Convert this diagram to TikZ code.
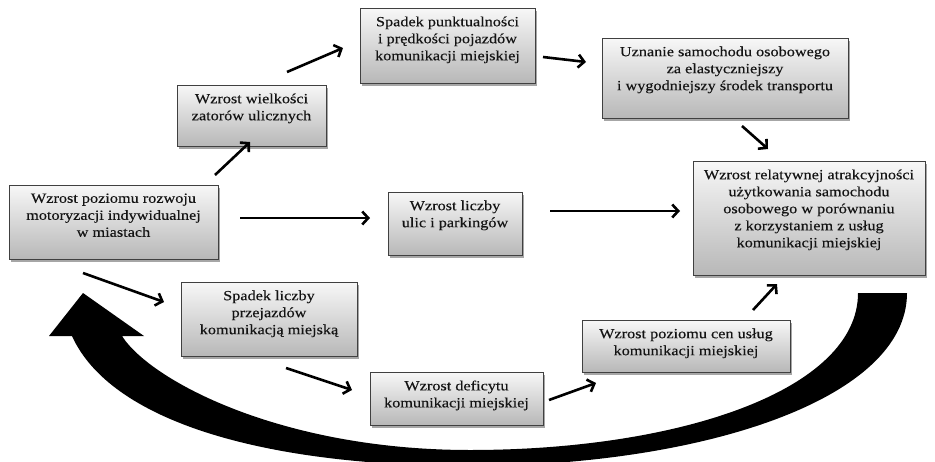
\documentclass[tikz,border=0pt]{standalone}
\usepackage{fontspec}
\setmainfont{Liberation Serif}[FakeStretch=1.16,FakeBold=0.25]
\usetikzlibrary{arrows.meta,shadows,calc}
\newcommand{\bxt}[3]{\parbox[c][#2][t]{#1}{\fontsize{14}{17}\selectfont\centering\vspace*{8.5pt}#3\par}}
\tikzset{
 boxst/.style={draw=black!75, line width=0.8pt, top color=black!3, bottom color=black!28,
   inner sep=0pt, text=black!92,
   drop shadow={shadow xshift=2pt, shadow yshift=-2.5pt, fill=black, opacity=0.35}},
 arr/.style={line width=2.6pt, -{Straight Barb[length=6pt,width=13pt]}},
 bigarrow/.style={fill=black, draw=none},
}
\begin{document}
\begin{tikzpicture}[x=1pt,y=-1pt]
\useasboundingbox (0,0) rectangle (935,461);
\fill[white] (0,0) rectangle (935,461);
\clip (0,0) rectangle (935,461);

% big feedback arrow
\path[bigarrow] (858,293) -- (907,293)
  .. controls (907,400) and (700,466) .. (470,466)
  .. controls (260,466) and (110,420) .. (72,336)
  -- (49,336) -- (83,293) -- (144,336) -- (122,336)
  .. controls (150,380) and (280,450) .. (470,450)
  .. controls (680,450) and (858,390) .. (858,293) -- cycle;

% boxes
\node[boxst] (A) at (113.5,222) {\bxt{209pt}{74pt}{Wzrost poziomu rozwoju\\motoryzacji indywidualnej\\w miastach}};
\node[boxst] (B) at (251.5,115.5) {\bxt{149pt}{61pt}{Wzrost wielkości\\zatorów ulicznych}};
\node[boxst] (C) at (447.5,45.5) {\bxt{175pt}{75pt}{Spadek punktualności\\i prędkości pojazdów\\komunikacji miejskiej}};
\node[boxst] (D) at (725,78) {\bxt{246pt}{80pt}{Uznanie samochodu osobowego\\za elastyczniejszy\\i wygodniejszy środek transportu}};
\node[boxst] (E) at (809,218) {\bxt{232pt}{114pt}{Wzrost relatywnej atrakcyjności\\użytkowania samochodu\\osobowego w porównaniu\\z korzystaniem z usług\\komunikacji miejskiej}};
\node[boxst] (F) at (455,223.5) {\bxt{134pt}{63pt}{Wzrost liczby\\ulic i parkingów}};
\node[boxst] (G) at (269,319) {\bxt{176pt}{74pt}{Spadek liczby\\przejazdów\\komunikacją miejską}};
\node[boxst] (H) at (456.5,398.5) {\bxt{173pt}{53pt}{Wzrost deficytu\\komunikacji miejskiej}};
\node[boxst] (I) at (686,346) {\bxt{208pt}{52pt}{Wzrost poziomu cen usług\\komunikacji miejskiej}};

% arrow end points
\coordinate (ab1) at (215,175);  \coordinate (ab2) at (250,142);
\coordinate (bc1) at (287,72);   \coordinate (bc2) at (343,48);
\coordinate (cd1) at (543,57);   \coordinate (cd2) at (586,62);
\coordinate (de1) at (742,126);  \coordinate (de2) at (768,149);
\coordinate (af1) at (240,218);  \coordinate (af2) at (370,218);
\coordinate (fe1) at (550,211);  \coordinate (fe2) at (680,211);
\coordinate (ag1) at (83,273);   \coordinate (ag2) at (164,302);
\coordinate (gh1) at (286,368);  \coordinate (gh2) at (352,390);
\coordinate (hi1) at (549,400);  \coordinate (hi2) at (596,383);
\coordinate (ie1) at (753,310);  \coordinate (ie2) at (777,284);

\draw[arr] (ab1) -- (ab2);
\draw[arr] (bc1) -- (bc2);
\draw[arr] (cd1) -- (cd2);
\draw[arr] (de1) -- (de2);
\draw[arr] (af1) -- (af2);
\draw[arr] (fe1) -- (fe2);
\draw[arr] (ag1) -- (ag2);
\draw[arr] (gh1) -- (gh2);
\draw[arr] (hi1) -- (hi2);
\draw[arr] (ie1) -- (ie2);
\end{tikzpicture}
\end{document}
